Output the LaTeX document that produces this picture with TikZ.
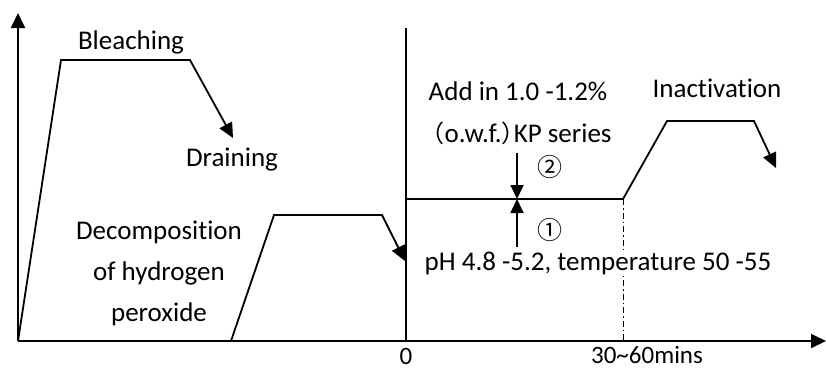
\documentclass[tikz,border=0pt]{standalone}
\usepackage{fontspec}
\setmainfont{Carlito}[Ligatures=NoCommon]
\newfontfamily\cjk{Noto Sans CJK SC}
\usetikzlibrary{arrows.meta}
\begin{document}
\begin{tikzpicture}[x=1pt,y=-1pt,
  line width=1.8pt,
  tip/.style={-{Triangle[length=15pt,width=14pt]}},
  lbl/.style={font=\fontsize{27}{32}\selectfont, inner sep=0pt},
  num/.style={font=\cjk\fontsize{25}{28}\selectfont, inner sep=0pt},
  dd/.style={line width=1pt, dash pattern=on 6pt off 3pt on 1.5pt off 3pt}]
\useasboundingbox (0,0) rectangle (826,370);
% axes
\coordinate (O) at (18,341);
\coordinate (Ytop) at (18,13);
\coordinate (Xend) at (826,341);
\draw[tip] (O) -- (Ytop);
\draw[tip] (O) -- (Xend);
% bleaching
\coordinate (b1) at (61,60);
\coordinate (b2) at (190,60);
\coordinate (b3) at (233,138);
\draw[tip] (O) -- (b1) -- (b2) -- (b3);
% decomposition
\coordinate (d0) at (231,341);
\coordinate (d1) at (274,215);
\coordinate (d2) at (382,215);
\coordinate (d3) at (405,261);
\draw[tip] (d0) -- (d1) -- (d2) -- (d3);
% zero line
\coordinate (z0) at (406,341);
\coordinate (zt) at (406,28);
\draw (z0) -- (zt);
% process
\coordinate (p0) at (406,199);
\coordinate (p1) at (623,199);
\coordinate (p2) at (667,121);
\coordinate (p3) at (754,121);
\coordinate (p4) at (776,168);
\draw[tip] (p0) -- (p1) -- (p2) -- (p3) -- (p4);
\coordinate (q0) at (623,341);
\draw[dd] (p1) -- (q0);
% add arrows
\coordinate (a0) at (517,153);
\coordinate (a1) at (517,199);
\coordinate (a2) at (517,247);
\draw[-{Triangle[length=14pt,width=13pt]}] (a0) -- (a1);
\draw[-{Triangle[length=14pt,width=13pt]}] (a2) -- (a1);
% labels
\node[lbl] (tb) at (131,42) {Bleaching};
\node[lbl] (td) at (232,160) {Draining};
\node[lbl, align=center] (tdec) at (159,273) {Decomposition\\[9pt]of hydrogen\\[9pt]peroxide};
\node[lbl] (tadd) at (518,91) {Add in 1.0 -1.2\%};
\node[lbl] (tkp) at (521,133) {{\cjk\fontsize{24}{28}\selectfont\kern-10pt（}o.w.f.{\cjk\fontsize{24}{28}\selectfont ）\kern-12pt}KP series};
\node[num] (n2) at (550,167) {②};
\node[num] (n1) at (550,230) {①};
\node[lbl, fill=white, inner sep=2pt] (tph) at (598,263) {pH 4.8 -5.2, temperature 50 -55};
\node[lbl] (tin) at (717,88) {Inactivation};
\node[lbl, font=\fontsize{25}{30}\selectfont] (t0) at (406,356) {0};
\node[lbl, font=\fontsize{25}{30}\selectfont] (t30) at (647,355) {30\textasciitilde60mins};
\end{tikzpicture}
\end{document}
